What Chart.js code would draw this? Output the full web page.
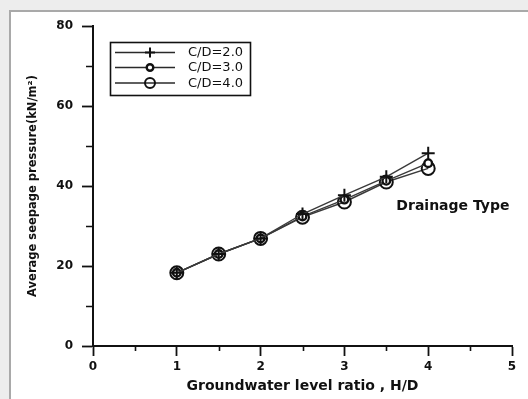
<!DOCTYPE html>
<html>
<head>
<meta charset="utf-8">
<script src="https://cdn.jsdelivr.net/npm/chart.js@4.4.0/dist/chart.umd.min.js"></script>
<style>
  html, body { margin: 0; padding: 0; width: 528px; height: 399px; overflow: hidden; background: #ededed; }
  #panel { position: absolute; left: 9px; top: 10px; width: 560px; height: 420px; background: #ffffff;
           border-top: 2px solid #a9a9a9; border-left: 2px solid #a9a9a9; }
  #wrap { position: absolute; left: 0; top: 0; width: 528px; height: 399px; }
</style>
</head>
<body>
<div id="panel"></div>
<div id="wrap"><canvas id="c" width="528" height="399"></canvas></div>
<script>
// Groundwater level ratio H/D and average seepage pressure (kN/m²) per cover ratio C/D
const ratioHD = [1, 1.5, 2, 2.5, 3, 3.5, 4];
const cd20 = [18.3, 23.0, 26.9, 33.0, 37.7, 42.3, 48.2];
const cd30 = [18.3, 23.0, 26.9, 32.4, 36.6, 41.3, 45.7];
const cd40 = [18.3, 23.0, 26.9, 32.2, 36.0, 41.0, 44.4];
const seriesNames = ['C/D=2.0', 'C/D=3.0', 'C/D=4.0'];
const xMinorTicks = [0.5, 1.5, 2.5, 3.5, 4.5];
const yMinorTicks = [10, 30, 50, 70];
const noteText = 'Drainage Type';

const INK = '#111111';
const tickFont = { family: 'DejaVu Sans', weight: 'bold', size: 12 };

function pts(ys) { return ratioHD.map((x, i) => ({ x: x, y: ys[i] })); }

const markerStyles = [
  { pointStyle: 'cross',  pointRadius: 6.5, pointBorderWidth: 2,   pointBackgroundColor: INK },
  { pointStyle: 'circle', pointRadius: 3.8, pointBorderWidth: 2.4, pointBackgroundColor: '#ffffff' },
  { pointStyle: 'circle', pointRadius: 6.5, pointBorderWidth: 2,   pointBackgroundColor: 'rgba(0,0,0,0)' }
];

const datasets = [cd20, cd30, cd40].map((ys, i) => Object.assign({
  label: seriesNames[i],
  data: pts(ys),
  borderColor: '#3a3a3a',
  borderWidth: 1.4,
  pointBorderColor: INK,
  tension: 0,
  fill: false
}, markerStyles[i]));

// short minor ticks, the boxed legend and the note text
const extras = {
  id: 'extras',
  afterDraw(chart) {
    const ctx = chart.ctx;
    const xs = chart.scales.x, ys = chart.scales.y;
    const ca = chart.chartArea;
    ctx.save();
    ctx.strokeStyle = INK;
    ctx.lineWidth = 1.6;
    ctx.beginPath();
    xMinorTicks.forEach(v => {
      const px = Math.round(xs.getPixelForValue(v)) + 0.5;
      ctx.moveTo(px, ca.bottom);
      ctx.lineTo(px, ca.bottom + 5);
    });
    yMinorTicks.forEach(v => {
      const py = Math.round(ys.getPixelForValue(v)) + 0.5;
      ctx.moveTo(ca.left, py);
      ctx.lineTo(ca.left - 7, py);
    });
    ctx.stroke();

    // legend box
    const bx = 110.5, by = 42.5, bw = 140, bh = 53;
    ctx.lineWidth = 1.6;
    ctx.strokeRect(bx, by, bw, bh);
    const rows = [52.5, 67.5, 83];
    ctx.font = '13px "DejaVu Sans"';
    ctx.textBaseline = 'middle';
    ctx.textAlign = 'left';
    chart.data.datasets.forEach((ds, i) => {
      const y = rows[i];
      ctx.strokeStyle = '#2a2a2a';
      ctx.lineWidth = 1.5;
      ctx.beginPath();
      ctx.moveTo(115, y);
      ctx.lineTo(175, y);
      ctx.stroke();
      ctx.strokeStyle = INK;
      ctx.fillStyle = ds.pointBackgroundColor;
      ctx.lineWidth = ds.pointBorderWidth;
      const r = ds.pointStyle === 'cross' ? 5 : (ds.pointRadius > 5 ? 5 : 3.3);
      Chart.helpers.drawPoint(ctx, { pointStyle: ds.pointStyle, radius: r, rotation: 0, borderWidth: ds.pointBorderWidth }, 150, y);
      ctx.fillStyle = INK;
      ctx.fillText(ds.label, 188, y + 0.5);
    });

    // note text
    ctx.font = 'bold 14px "DejaVu Sans"';
    ctx.textBaseline = 'alphabetic';
    ctx.fillStyle = INK;
    ctx.fillText(noteText, xs.getPixelForValue(3.62), ys.getPixelForValue(34));
    ctx.restore();
  }
};

new Chart(document.getElementById('c'), {
  type: 'line',
  data: { datasets: datasets },
  plugins: [extras],
  options: {
    responsive: false,
    animation: false,
    events: [],
    layout: { padding: { top: 26, right: 16, left: 0, bottom: 0 } },
    plugins: { legend: { display: false }, tooltip: { enabled: false } },
    scales: {
      x: {
        type: 'linear', min: 0, max: 5,
        afterFit: s => { s.height = 53; },
        ticks: { stepSize: 1, color: INK, font: tickFont, padding: 4 },
        grid: { drawOnChartArea: false, drawTicks: true, tickLength: 10, tickColor: INK, tickWidth: 1.8 },
        border: { display: true, color: INK, width: 2 },
        title: { display: true, text: 'Groundwater level ratio , H/D', color: INK,
                 font: { family: 'DejaVu Sans', weight: 'bold', size: 14 }, padding: { top: 0, bottom: 4 } }
      },
      y: {
        type: 'linear', min: 0, max: 80,
        afterFit: s => { s.width = 93; },
        ticks: { stepSize: 20, color: INK, font: tickFont, padding: 9 },
        grid: { drawOnChartArea: false, drawTicks: true, tickLength: 11, tickColor: INK, tickWidth: 1.8 },
        border: { display: true, color: INK, width: 2 },
        title: { display: true, text: 'Average seepage pressure(kN/m²)', color: INK,
                 font: { family: 'DejaVu Sans', weight: 'bold', size: 11.5 }, padding: { top: 26, bottom: 0 } }
      }
    }
  }
});
</script>
</body>
</html>
